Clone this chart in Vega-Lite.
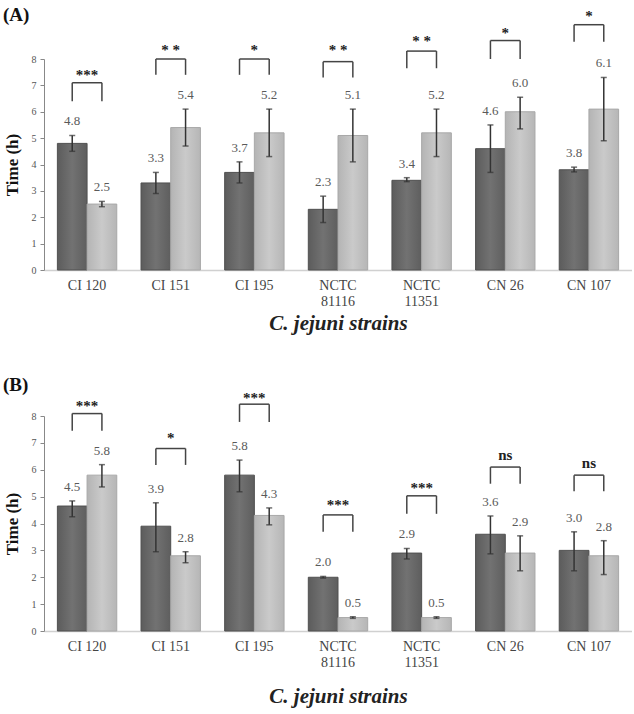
{
  "$schema": "https://vega.github.io/schema/vega-lite/v6.json",
  "padding": {"left": 3, "top": 5, "right": 0, "bottom": 5},
  "background": "white",
  "spacing": 42,
  "config": {
    "view": {"stroke": null},
    "font": "Liberation Serif",
    "axis": {"labelFont": "Liberation Serif", "titleFont": "Liberation Serif"},
    "axisY": {"titleFontWeight": "bold", "titleFontSize": 17, "titleColor": "#111", "titlePadding": 10, "labelOverlap": false, "labelFontSize": 10, "labelColor": "#555", "labelPadding": 4, "tickSize": 4, "tickColor": "#888", "domainColor": "#888", "grid": false}
  },
  "datasets": {
    "barsA": [
      {"strain": "CI 120", "group": "dark", "value": 4.8, "lo": 4.5, "hi": 5.1, "label": "4.8"},
      {"strain": "CI 120", "group": "light", "value": 2.5, "lo": 2.4, "hi": 2.6, "label": "2.5"},
      {"strain": "CI 151", "group": "dark", "value": 3.3, "lo": 2.9, "hi": 3.7, "label": "3.3"},
      {"strain": "CI 151", "group": "light", "value": 5.4, "lo": 4.7, "hi": 6.1, "label": "5.4"},
      {"strain": "CI 195", "group": "dark", "value": 3.7, "lo": 3.3, "hi": 4.1, "label": "3.7"},
      {"strain": "CI 195", "group": "light", "value": 5.2, "lo": 4.3, "hi": 6.1, "label": "5.2"},
      {"strain": "NCTC 81116", "group": "dark", "value": 2.3, "lo": 1.8, "hi": 2.8, "label": "2.3"},
      {"strain": "NCTC 81116", "group": "light", "value": 5.1, "lo": 4.1, "hi": 6.1, "label": "5.1"},
      {"strain": "NCTC 11351", "group": "dark", "value": 3.4, "lo": 3.35, "hi": 3.5, "label": "3.4"},
      {"strain": "NCTC 11351", "group": "light", "value": 5.2, "lo": 4.3, "hi": 6.1, "label": "5.2"},
      {"strain": "CN 26", "group": "dark", "value": 4.6, "lo": 3.7, "hi": 5.5, "label": "4.6"},
      {"strain": "CN 26", "group": "light", "value": 6.0, "lo": 5.35, "hi": 6.55, "label": "6.0"},
      {"strain": "CN 107", "group": "dark", "value": 3.8, "lo": 3.72, "hi": 3.9, "label": "3.8"},
      {"strain": "CN 107", "group": "light", "value": 6.1, "lo": 4.9, "hi": 7.3, "label": "6.1"}
    ],
    "barsB": [
      {"strain": "CI 120", "group": "dark", "value": 4.65, "lo": 4.25, "hi": 4.84, "label": "4.5"},
      {"strain": "CI 120", "group": "light", "value": 5.8, "lo": 5.36, "hi": 6.19, "label": "5.8"},
      {"strain": "CI 151", "group": "dark", "value": 3.9, "lo": 2.95, "hi": 4.77, "label": "3.9"},
      {"strain": "CI 151", "group": "light", "value": 2.8, "lo": 2.54, "hi": 2.95, "label": "2.8"},
      {"strain": "CI 195", "group": "dark", "value": 5.8, "lo": 5.18, "hi": 6.36, "label": "5.8"},
      {"strain": "CI 195", "group": "light", "value": 4.3, "lo": 3.95, "hi": 4.58, "label": "4.3"},
      {"strain": "NCTC 81116", "group": "dark", "value": 2.0, "lo": 1.97, "hi": 2.03, "label": "2.0"},
      {"strain": "NCTC 81116", "group": "light", "value": 0.5, "lo": 0.47, "hi": 0.53, "label": "0.5"},
      {"strain": "NCTC 11351", "group": "dark", "value": 2.9, "lo": 2.68, "hi": 3.07, "label": "2.9"},
      {"strain": "NCTC 11351", "group": "light", "value": 0.5, "lo": 0.47, "hi": 0.53, "label": "0.5"},
      {"strain": "CN 26", "group": "dark", "value": 3.6, "lo": 2.87, "hi": 4.28, "label": "3.6"},
      {"strain": "CN 26", "group": "light", "value": 2.9, "lo": 2.24, "hi": 3.54, "label": "2.9"},
      {"strain": "CN 107", "group": "dark", "value": 3.0, "lo": 2.24, "hi": 3.69, "label": "3.0"},
      {"strain": "CN 107", "group": "light", "value": 2.8, "lo": 2.1, "hi": 3.36, "label": "2.8"}
    ],
    "sigA": [
      {"strain": "CI 120", "group": "dark", "top": 7.1, "bottom": 6.4},
      {"strain": "CI 120", "group": "light", "top": 7.1, "bottom": 6.4},
      {"strain": "CI 151", "group": "dark", "top": 8.0, "bottom": 7.4},
      {"strain": "CI 151", "group": "light", "top": 8.0, "bottom": 7.4},
      {"strain": "CI 195", "group": "dark", "top": 8.0, "bottom": 7.4},
      {"strain": "CI 195", "group": "light", "top": 8.0, "bottom": 7.4},
      {"strain": "NCTC 81116", "group": "dark", "top": 7.9, "bottom": 7.3},
      {"strain": "NCTC 81116", "group": "light", "top": 7.9, "bottom": 7.3},
      {"strain": "NCTC 11351", "group": "dark", "top": 8.3, "bottom": 7.65},
      {"strain": "NCTC 11351", "group": "light", "top": 8.3, "bottom": 7.65},
      {"strain": "CN 26", "group": "dark", "top": 8.7, "bottom": 8.0},
      {"strain": "CN 26", "group": "light", "top": 8.7, "bottom": 8.0},
      {"strain": "CN 107", "group": "dark", "top": 9.3, "bottom": 8.65},
      {"strain": "CN 107", "group": "light", "top": 9.3, "bottom": 8.65}
    ],
    "sigB": [
      {"strain": "CI 120", "group": "dark", "top": 8.09, "bottom": 7.45},
      {"strain": "CI 120", "group": "light", "top": 8.09, "bottom": 7.45},
      {"strain": "CI 151", "group": "dark", "top": 6.79, "bottom": 6.18},
      {"strain": "CI 151", "group": "light", "top": 6.79, "bottom": 6.18},
      {"strain": "CI 195", "group": "dark", "top": 8.44, "bottom": 7.78},
      {"strain": "CI 195", "group": "light", "top": 8.44, "bottom": 7.78},
      {"strain": "NCTC 81116", "group": "dark", "top": 4.32, "bottom": 3.69},
      {"strain": "NCTC 81116", "group": "light", "top": 4.32, "bottom": 3.69},
      {"strain": "NCTC 11351", "group": "dark", "top": 5.03, "bottom": 4.36},
      {"strain": "NCTC 11351", "group": "light", "top": 5.03, "bottom": 4.36},
      {"strain": "CN 26", "group": "dark", "top": 6.1, "bottom": 5.48},
      {"strain": "CN 26", "group": "light", "top": 6.1, "bottom": 5.48},
      {"strain": "CN 107", "group": "dark", "top": 5.8, "bottom": 5.2},
      {"strain": "CN 107", "group": "light", "top": 5.8, "bottom": 5.2}
    ],
    "starsA": [
      {"strain": "CI 120", "text": "***", "ty": 7.5},
      {"strain": "CI 151", "text": "* *", "ty": 8.45},
      {"strain": "CI 195", "text": "*", "ty": 8.45},
      {"strain": "NCTC 81116", "text": "* *", "ty": 8.45},
      {"strain": "NCTC 11351", "text": "* *", "ty": 8.8},
      {"strain": "CN 26", "text": "*", "ty": 9.1},
      {"strain": "CN 107", "text": "*", "ty": 9.75}
    ],
    "starsB": [
      {"strain": "CI 120", "text": "***", "ty": 8.5},
      {"strain": "CI 151", "text": "*", "ty": 7.3},
      {"strain": "CI 195", "text": "***", "ty": 8.8},
      {"strain": "NCTC 81116", "text": "***", "ty": 4.8},
      {"strain": "NCTC 11351", "text": "***", "ty": 5.44},
      {"strain": "CN 26", "text": "ns", "ty": 6.67},
      {"strain": "CN 107", "text": "ns", "ty": 6.36}
    ]
  },
  "vconcat": [
    {
      "title": {"text": "(A)", "anchor": "start", "frame": "bounds", "fontSize": 19, "font": "Liberation Serif", "fontWeight": "bold", "color": "#111", "offset": -16},
      "width": 588,
      "height": 211,
      "encoding": {
        "x": {"field": "strain", "type": "nominal", "sort": ["CI 120", "CI 151", "CI 195", "NCTC 81116", "NCTC 11351", "CN 26", "CN 107"],
          "scale": {"paddingInner": 0.29, "paddingOuter": 0.16},
          "axis": {"title": "C. jejuni strains", "titleFontStyle": "italic", "titleFontWeight": "bold", "titleFontSize": 21, "titleColor": "#222", "titlePadding": 4,
            "labelAngle": 0, "labelFontSize": 14, "labelColor": "#444", "labelPadding": 8, "ticks": false, "domainColor": "#d0d0d0", "domainWidth": 1.5,
            "labelExpr": "indexof(datum.label, 'NCTC') == 0 ? split(datum.label, ' ') : datum.label"}},
        "xOffset": {"field": "group", "type": "nominal", "scale": {"domain": ["dark", "light"]}}
      },
      "layer": [
        {"data": {"name": "barsA"}, "transform": [{"filter": "datum.group == 'dark'"}],
          "mark": {"type": "bar", "stroke": "#505050", "strokeWidth": 1, "fill": {"gradient": "linear", "x1": 0, "x2": 1, "y1": 0, "y2": 0, "stops": [{"offset": 0, "color": "#5c5c5c"}, {"offset": 0.5, "color": "#727272"}, {"offset": 1, "color": "#5e5e5e"}]}},
          "encoding": {"y": {"field": "value", "type": "quantitative", "scale": {"domain": [0, 8], "nice": false}, "axis": {"title": "Time (h)", "values": [0,1,2,3,4,5,6,7,8]}}}},
        {"data": {"name": "barsA"}, "transform": [{"filter": "datum.group == 'light'"}],
          "mark": {"type": "bar", "stroke": "#a8a8a8", "strokeWidth": 1, "fill": {"gradient": "linear", "x1": 0, "x2": 1, "y1": 0, "y2": 0, "stops": [{"offset": 0, "color": "#b4b4b4"}, {"offset": 0.5, "color": "#cacaca"}, {"offset": 1, "color": "#b6b6b6"}]}},
          "encoding": {"y": {"field": "value", "type": "quantitative", "axis": {"title": "Time (h)", "values": [0,1,2,3,4,5,6,7,8]}}}},
        {"data": {"name": "barsA"}, "mark": {"type": "rule", "color": "#333", "strokeWidth": 1.5},
          "encoding": {"y": {"field": "lo", "type": "quantitative", "axis": {"title": "Time (h)", "values": [0,1,2,3,4,5,6,7,8]}}, "y2": {"field": "hi"}}},
        {"data": {"name": "barsA"}, "mark": {"type": "tick", "color": "#333", "size": 6, "thickness": 1.5, "orient": "horizontal"},
          "encoding": {"y": {"field": "lo", "type": "quantitative", "axis": {"title": "Time (h)", "values": [0,1,2,3,4,5,6,7,8]}}}},
        {"data": {"name": "barsA"}, "mark": {"type": "tick", "color": "#333", "size": 6, "thickness": 1.5, "orient": "horizontal"},
          "encoding": {"y": {"field": "hi", "type": "quantitative", "axis": {"title": "Time (h)", "values": [0,1,2,3,4,5,6,7,8]}}}},
        {"data": {"name": "barsA"}, "mark": {"type": "text", "baseline": "bottom", "dy": -7, "fontSize": 13, "color": "#5a5a5a", "font": "Liberation Serif"},
          "encoding": {"y": {"field": "hi", "type": "quantitative", "axis": {"title": "Time (h)", "values": [0,1,2,3,4,5,6,7,8]}}, "text": {"field": "label"}}},
        {"data": {"name": "sigA"}, "mark": {"type": "rule", "color": "#444", "strokeWidth": 1.5},
          "encoding": {"y": {"field": "bottom", "type": "quantitative", "axis": {"title": "Time (h)", "values": [0,1,2,3,4,5,6,7,8]}}, "y2": {"field": "top"}}},
        {"data": {"name": "sigA"}, "mark": {"type": "line", "color": "#444", "strokeWidth": 1.5},
          "encoding": {"y": {"field": "top", "type": "quantitative", "axis": {"title": "Time (h)", "values": [0,1,2,3,4,5,6,7,8]}}, "detail": {"field": "strain"}}},
        {"data": {"name": "starsA"}, "mark": {"type": "text", "fontSize": 15, "fontWeight": "bold", "color": "#222", "baseline": "middle", "dy": 3, "font": "Liberation Serif"},
          "encoding": {"xOffset": null, "y": {"field": "ty", "type": "quantitative", "axis": {"title": "Time (h)", "values": [0,1,2,3,4,5,6,7,8]}}, "text": {"field": "text"}}}
      ]
    },
    {
      "title": {"text": "(B)", "anchor": "start", "frame": "bounds", "fontSize": 19, "font": "Liberation Serif", "fontWeight": "bold", "color": "#111", "offset": -4},
      "width": 588,
      "height": 215,
      "encoding": {
        "x": {"field": "strain", "type": "nominal", "sort": ["CI 120", "CI 151", "CI 195", "NCTC 81116", "NCTC 11351", "CN 26", "CN 107"],
          "scale": {"paddingInner": 0.29, "paddingOuter": 0.16},
          "axis": {"title": "C. jejuni strains", "titleFontStyle": "italic", "titleFontWeight": "bold", "titleFontSize": 21, "titleColor": "#222", "titlePadding": 16,
            "labelAngle": 0, "labelFontSize": 14, "labelColor": "#444", "labelPadding": 8, "ticks": false, "domainColor": "#d0d0d0", "domainWidth": 1.5,
            "labelExpr": "indexof(datum.label, 'NCTC') == 0 ? split(datum.label, ' ') : datum.label"}},
        "xOffset": {"field": "group", "type": "nominal", "scale": {"domain": ["dark", "light"]}}
      },
      "layer": [
        {"data": {"name": "barsB"}, "transform": [{"filter": "datum.group == 'dark'"}],
          "mark": {"type": "bar", "stroke": "#505050", "strokeWidth": 1, "fill": {"gradient": "linear", "x1": 0, "x2": 1, "y1": 0, "y2": 0, "stops": [{"offset": 0, "color": "#5c5c5c"}, {"offset": 0.5, "color": "#727272"}, {"offset": 1, "color": "#5e5e5e"}]}},
          "encoding": {"y": {"field": "value", "type": "quantitative", "scale": {"domain": [0, 8], "nice": false}, "axis": {"title": "Time (h)", "values": [0,1,2,3,4,5,6,7,8]}}}},
        {"data": {"name": "barsB"}, "transform": [{"filter": "datum.group == 'light'"}],
          "mark": {"type": "bar", "stroke": "#a8a8a8", "strokeWidth": 1, "fill": {"gradient": "linear", "x1": 0, "x2": 1, "y1": 0, "y2": 0, "stops": [{"offset": 0, "color": "#b4b4b4"}, {"offset": 0.5, "color": "#cacaca"}, {"offset": 1, "color": "#b6b6b6"}]}},
          "encoding": {"y": {"field": "value", "type": "quantitative", "axis": {"title": "Time (h)", "values": [0,1,2,3,4,5,6,7,8]}}}},
        {"data": {"name": "barsB"}, "mark": {"type": "rule", "color": "#333", "strokeWidth": 1.5},
          "encoding": {"y": {"field": "lo", "type": "quantitative", "axis": {"title": "Time (h)", "values": [0,1,2,3,4,5,6,7,8]}}, "y2": {"field": "hi"}}},
        {"data": {"name": "barsB"}, "mark": {"type": "tick", "color": "#333", "size": 6, "thickness": 1.5, "orient": "horizontal"},
          "encoding": {"y": {"field": "lo", "type": "quantitative", "axis": {"title": "Time (h)", "values": [0,1,2,3,4,5,6,7,8]}}}},
        {"data": {"name": "barsB"}, "mark": {"type": "tick", "color": "#333", "size": 6, "thickness": 1.5, "orient": "horizontal"},
          "encoding": {"y": {"field": "hi", "type": "quantitative", "axis": {"title": "Time (h)", "values": [0,1,2,3,4,5,6,7,8]}}}},
        {"data": {"name": "barsB"}, "mark": {"type": "text", "baseline": "bottom", "dy": -7, "fontSize": 13, "color": "#5a5a5a", "font": "Liberation Serif"},
          "encoding": {"y": {"field": "hi", "type": "quantitative", "axis": {"title": "Time (h)", "values": [0,1,2,3,4,5,6,7,8]}}, "text": {"field": "label"}}},
        {"data": {"name": "sigB"}, "mark": {"type": "rule", "color": "#444", "strokeWidth": 1.5},
          "encoding": {"y": {"field": "bottom", "type": "quantitative", "axis": {"title": "Time (h)", "values": [0,1,2,3,4,5,6,7,8]}}, "y2": {"field": "top"}}},
        {"data": {"name": "sigB"}, "mark": {"type": "line", "color": "#444", "strokeWidth": 1.5},
          "encoding": {"y": {"field": "top", "type": "quantitative", "axis": {"title": "Time (h)", "values": [0,1,2,3,4,5,6,7,8]}}, "detail": {"field": "strain"}}},
        {"data": {"name": "starsB"}, "mark": {"type": "text", "fontSize": 15, "fontWeight": "bold", "color": "#222", "baseline": "middle", "dy": 3, "font": "Liberation Serif"},
          "encoding": {"xOffset": null, "y": {"field": "ty", "type": "quantitative", "axis": {"title": "Time (h)", "values": [0,1,2,3,4,5,6,7,8]}}, "text": {"field": "text"}}}
      ]
    }
  ]
}
